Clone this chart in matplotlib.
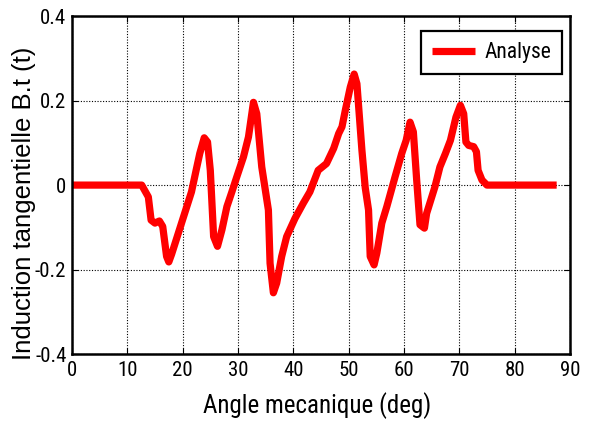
import matplotlib
matplotlib.use("Agg")
import matplotlib.pyplot as plt
from matplotlib import font_manager

# Tangential induction along the mechanical angle
angle_deg = [0.0, 12.6, 13.8, 14.3, 15.0, 15.8, 16.4, 17.1, 17.5, 18.0, 19.8, 21.6,
             22.5, 23.1, 23.9, 24.5, 25.0, 25.6, 26.3, 27.1, 28.0, 28.9, 29.8,
             31.0, 31.9, 32.8, 33.4, 34.3, 35.5, 35.8, 36.4, 37.0, 37.9, 38.8,
             40.3, 41.8, 43.0, 44.5, 46.0, 47.3, 48.2, 48.8, 49.4, 50.3, 51.0,
             51.5, 52.4, 53.0, 53.6, 53.9, 54.6, 55.1, 56.0, 56.9, 58.4, 59.6,
             60.4, 61.1, 61.7, 62.3, 62.9, 63.7, 64.1, 65.6, 66.5, 67.5, 68.4,
             69.4, 70.2, 70.8, 71.2, 71.7, 72.6, 73.1, 73.4, 74.1, 75.0, 87.6]
b_tangential = [0.0, 0.0, -0.028, -0.083, -0.090, -0.085, -0.098, -0.169, -0.182,
                -0.164, -0.090, -0.016, 0.039, 0.075, 0.112, 0.102, 0.035, -0.122,
                -0.145, -0.106, -0.051, -0.016, 0.020, 0.067, 0.114, 0.196, 0.169,
                0.043, -0.059, -0.185, -0.255, -0.232, -0.169, -0.122, -0.079,
                -0.043, -0.016, 0.035, 0.051, 0.087, 0.122, 0.138, 0.177, 0.232,
                0.263, 0.240, 0.083, -0.006, -0.059, -0.169, -0.189, -0.161,
                -0.090, -0.051, 0.020, 0.075, 0.106, 0.149, 0.126, 0.012, -0.094,
                -0.102, -0.067, -0.004, 0.043, 0.075, 0.106, 0.161, 0.189, 0.169,
                0.102, 0.094, 0.091, 0.079, 0.035, 0.012, 0.0, 0.0]

x_ticks = [0, 10, 20, 30, 40, 50, 60, 70, 80, 90]
y_ticks = [-0.4, -0.2, 0, 0.2, 0.4]
y_tick_labels = ["-0.4", "-0.2", "0", "0.2", "0.4"]

# Pick a narrow Helvetica-like face when one is available
installed = {f.name for f in font_manager.fontManager.ttflist}
narrow = "Liberation Sans"
for name in ["Liberation Sans Narrow", "Nimbus Sans Narrow", "Arial Narrow",
             "Roboto Condensed", "Open Sans Condensed"]:
    if name in installed:
        narrow = name
        break
plt.rcParams["font.family"] = [narrow, "DejaVu Sans"]

fig = plt.figure(figsize=(5.9, 4.26), dpi=100)
ax = fig.add_axes([0.122, 0.169, 0.844, 0.793])

ax.plot(angle_deg, b_tangential, color="#ff0000", lw=5.2, label="Analyse",
        solid_joinstyle="round", solid_capstyle="butt")

ax.set_xlim(0, 90)
ax.set_ylim(-0.4, 0.4)
ax.set_xticks(x_ticks)
ax.set_yticks(y_ticks)
ax.set_yticklabels(y_tick_labels)
ax.grid(True, color="black", linestyle=(0, (1, 1.5)), linewidth=0.8)
ax.tick_params(direction="in", top=True, right=True, length=4, width=0.8,
               labelsize=15, pad=4)
ax.tick_params(axis="x", pad=5)
for s in ax.spines.values():
    s.set_linewidth(1.8)

ax.set_xlabel("Angle mecanique (deg)", fontsize=18)
ax.xaxis.set_label_coords(0.493, -0.113)
ax.set_ylabel("Induction tangentielle B.t (t)", fontsize=18.5,
              family=["Liberation Sans", "DejaVu Sans"])
ax.yaxis.set_label_coords(-0.072, 0.447)

leg = ax.legend(loc="upper right", fontsize=15.5, fancybox=False, framealpha=1,
                edgecolor="black", handlelength=2.0, handletextpad=0.45,
                borderpad=0.5, borderaxespad=0.0,
                bbox_to_anchor=(0.985, 0.955))
leg.get_frame().set_linewidth(1.6)

fig.savefig("out.png", dpi=100)
